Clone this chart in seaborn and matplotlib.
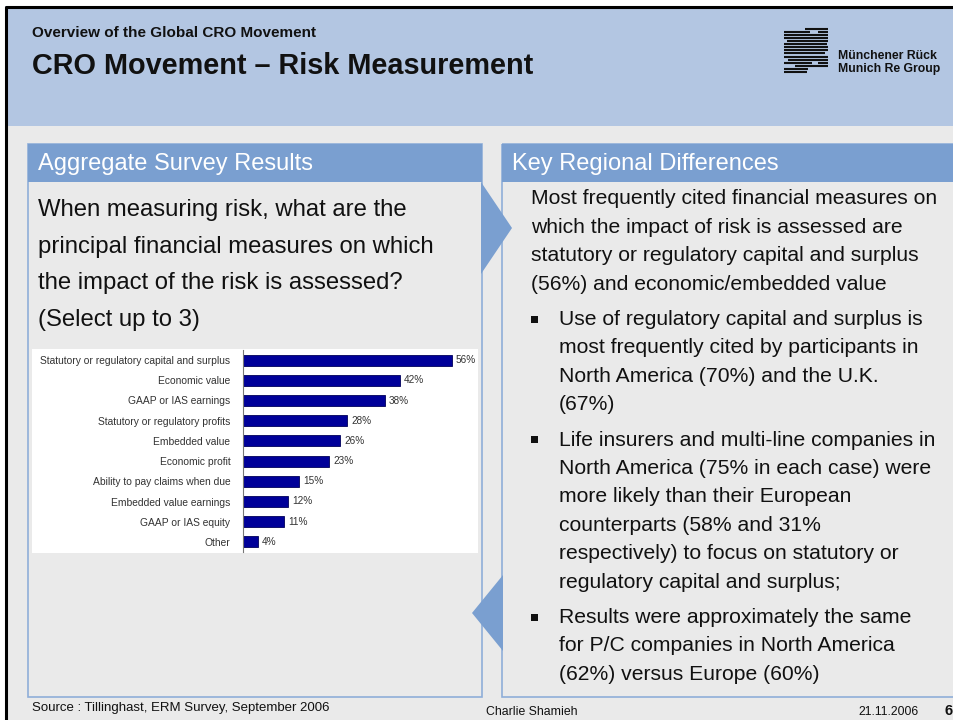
import matplotlib
matplotlib.use("Agg")
import matplotlib.pyplot as plt
import seaborn as sns
from matplotlib.patches import Rectangle, Polygon

# --- data -------------------------------------------------------------
categories = [
    "Statutory or regulatory capital and surplus",
    "Economic value",
    "GAAP or IAS earnings",
    "Statutory or regulatory profits",
    "Embedded value",
    "Economic profit",
    "Ability to pay claims when due",
    "Embedded value earnings",
    "GAAP or IAS equity",
    "Other",
]
values = [56, 42, 38, 28, 26, 23, 15, 12, 11, 4]
value_labels = [f"{v}%" for v in values]

question_lines = [
    "When measuring risk, what are the",
    "principal financial measures on which",
    "the impact of the risk is assessed?",
    "(Select up to 3)",
]
intro_lines = [
    "Most frequently cited financial measures on",
    "which the impact of risk is assessed are",
    "statutory or regulatory capital and surplus",
    "(56%) and economic/embedded value",
]
bullets = [
    ["Use of regulatory capital and surplus is",
     "most frequently cited by participants in",
     "North America (70%) and the U.K.",
     "(67%)"],
    ["Life insurers and multi-line companies in",
     "North America (75% in each case) were",
     "more likely than their European",
     "counterparts (58% and 31%",
     "respectively) to focus on statutory or",
     "regulatory capital and surplus;"],
    ["Results were approximately the same",
     "for P/C companies in North America",
     "(62%) versus Europe (60%)"],
]

# --- colours ----------------------------------------------------------
HEAD_BG = "#B3C6E2"
BODY_BG = "#EAEAEA"
BAR_HEAD = "#7A9FD0"
BORDER = "#8FAED9"
BAR_COL = "#000099"
INK = "#111111"

sns.set_theme(style="white")
plt.rcParams["font.family"] = ["Liberation Sans", "DejaVu Sans"]

W, H = 954, 720
fig = plt.figure(figsize=(W / 100, H / 100), dpi=100)
fig.patch.set_facecolor("white")

# background canvas in pixel coordinates
bg = fig.add_axes([0, 0, 1, 1])
bg.set_xlim(0, W)
bg.set_ylim(H, 0)
bg.axis("off")

bg.add_patch(Rectangle((5, 6), W, H, facecolor=BODY_BG, edgecolor="none"))
bg.add_patch(Rectangle((5, 6), W, 120, facecolor=HEAD_BG, edgecolor="none"))
bg.plot([6, 6, W], [H, 7, 7], color="black", lw=2.2, solid_capstyle="butt")

# titles
bg.text(32, 33, "Overview of the Global CRO Movement", fontsize=11,
        fontweight="bold", va="center", color=INK)
bg.text(32, 66, "CRO Movement \u2013 Risk Measurement", fontsize=20.8,
        fontweight="bold", va="center", color=INK)

# logo stripes
logo_rows = [
    (27, [(90, 160)]), (36, [(28, 105), (130, 160)]), (45, [(28, 160)]),
    (55, [(28, 160)]), (64, [(35, 160)]), (73, [(28, 155)]),
    (82, [(28, 160)]), (91, [(28, 160)]), (100, [(28, 150)]),
    (110, [(28, 160)]), (119, [(40, 160)]), (128, [(28, 110), (130, 160)]),
    (137, [(60, 160)]), (146, [(28, 100)]), (155, [(28, 95)]),
]
for zy, segs in logo_rows:
    for x0, x1 in segs:
        bg.plot([775 + x0 / 3, 775 + x1 / 3], [20 + zy / 3] * 2,
                color=INK, lw=1.5, solid_capstyle="butt")
bg.text(838, 56, "M\u00fcnchener R\u00fcck", fontsize=8.8, fontweight="bold",
        va="center", color=INK)
bg.text(838, 69, "Munich Re Group", fontsize=8.8, fontweight="bold",
        va="center", color=INK)

# panels
for x0, x1, title in [(28, 482, "Aggregate Survey Results"),
                      (502, W + 5, "Key Regional Differences")]:
    bg.add_patch(Rectangle((x0, 144), x1 - x0, 697 - 144, facecolor="none",
                           edgecolor=BORDER, lw=1.2))
    bg.add_patch(Rectangle((x0, 144), x1 - x0, 38, facecolor=BAR_HEAD,
                           edgecolor="none"))
    bg.text(x0 + 10, 164, title, fontsize=17, color="white", va="center")

bg.add_patch(Polygon([(481, 182), (481, 274), (512, 228)],
                     facecolor=BAR_HEAD, edgecolor="none"))
bg.add_patch(Polygon([(503, 575), (503, 651), (472, 613)],
                     facecolor=BAR_HEAD, edgecolor="none"))

# left question
for i, line in enumerate(question_lines):
    bg.text(38, 210 + i * 36.7, line, fontsize=17.2, va="center", color=INK)

# right text
y = 199
for line in intro_lines:
    bg.text(531, y, line, fontsize=15.2, va="center", color=INK)
    y += 28.4
y += 7
for lines in bullets:
    bg.add_patch(Rectangle((531, y - 4), 7, 7, facecolor=INK,
                           edgecolor="none"))
    for line in lines:
        bg.text(559, y, line, fontsize=15.2, va="center", color=INK)
        y += 28.4
    y += 7

# footer
bg.text(32, 708, "Source : Tillinghast, ERM Survey, September 2006",
        fontsize=9.5, va="center", color=INK)
bg.text(486, 712, "Charlie Shamieh", fontsize=8.8, va="center", color=INK)
bg.text(858, 712, "21.11.2006", fontsize=8.8, va="center", color=INK)
bg.text(945, 711, "6", fontsize=10.5, fontweight="bold", va="center",
        color=INK)

# white chart background
bg.add_patch(Rectangle((32, 349), 478 - 32, 553 - 349, facecolor="white",
                       edgecolor="none"))

# --- bar chart --------------------------------------------------------
ax_l, ax_r, ax_t, ax_b = 243, 478, 350, 552
ax = fig.add_axes([ax_l / W, 1 - ax_b / H, (ax_r - ax_l) / W,
                   (ax_b - ax_t) / H])
ax.set_facecolor("none")
sns.barplot(x=values, y=categories, orient="h", color=BAR_COL,
            edgecolor="#00005A", linewidth=0.6, width=0.55, saturation=1,
            ax=ax)
ax.set_xlim(0, 63)
ax.set_ylim(9.5, -0.5)
ax.bar_label(ax.containers[0], labels=value_labels, padding=3,
             fontsize=7.2, color="#333333")
ax.set_xlabel("")
ax.set_ylabel("")
ax.set_xticks([])
ax.tick_params(axis="y", length=0, labelsize=7.4, labelcolor="#333333",
               pad=9)
ax.set_yticks([i + 0.5 for i in range(-1, 10)], minor=True)
ax.tick_params(axis="y", which="minor", length=3, color="#777777", width=0.6)
for s in ["top", "right", "bottom"]:
    ax.spines[s].set_visible(False)
ax.spines["left"].set_color("#777777")
ax.spines["left"].set_linewidth(0.8)

fig.savefig("out.png", dpi=100, facecolor=fig.get_facecolor())
